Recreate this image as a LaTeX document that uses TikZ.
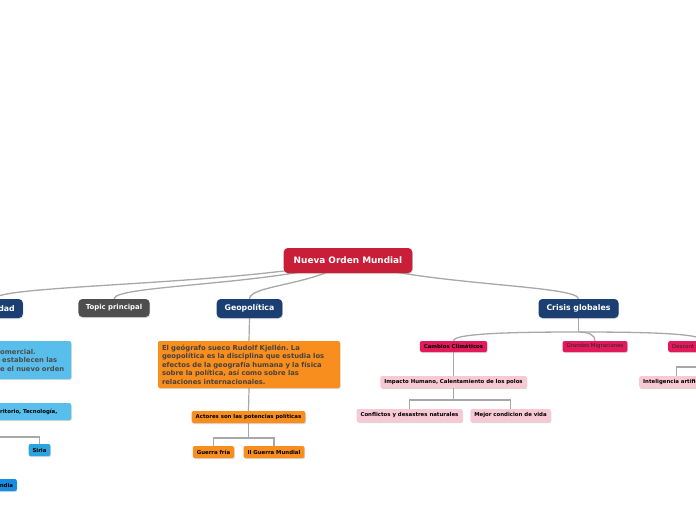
\documentclass[tikz,border=0pt]{standalone}
\usepackage{fontspec}
\setmainfont{DejaVu Sans}
\usetikzlibrary{backgrounds,shadows}
\definecolor{rootred}{RGB}{200,30,56}
\definecolor{navy}{RGB}{27,63,115}
\definecolor{topicgray}{RGB}{78,78,78}
\definecolor{sky}{RGB}{88,190,236}
\definecolor{siriablue}{RGB}{44,164,224}
\definecolor{indiablue}{RGB}{22,140,226}
\definecolor{amber}{RGB}{247,142,30}
\definecolor{crimson}{RGB}{226,26,92}
\definecolor{blush}{RGB}{248,200,213}
\definecolor{wire}{RGB}{168,168,168}
\definecolor{ink}{RGB}{72,66,62}

\tikzset{
  card/.style={rounded corners=2pt, inner ysep=1pt,
    drop shadow={shadow xshift=0.6pt, shadow yshift=-1pt, opacity=0.3}},
  root/.style={card, fill=rootred, text=white, rounded corners=4pt,
    minimum height=25, inner xsep=10pt, font=\fontsize{8.9}{10}\selectfont\bfseries},
  main/.style={card, fill=navy, text=white, rounded corners=4pt,
    minimum height=19, inner xsep=8pt, font=\fontsize{7.8}{9}\selectfont\bfseries},
  aside/.style={main, fill=topicgray, minimum height=18, inner xsep=7.4pt,
    font=\fontsize{6.9}{8}\selectfont\bfseries},
  note/.style={card, text=ink, inner xsep=4pt, align=left,
    font=\fontsize{6.8}{8.5}\selectfont\bfseries\frenchspacing},
  leaf/.style={card, minimum height=12, inner xsep=4pt,
    font=\fontsize{5.4}{6}\selectfont\bfseries},
  plain/.style={font=\fontsize{5.4}{6}\selectfont\mdseries, text=black!85},
  branch/.style={draw=wire, line width=1.3pt},
  elbow/.style={draw=wire, line width=1.2pt}
}

\begin{document}
\begin{tikzpicture}[x=1pt, y=-1pt, line cap=round, line join=round]
  \useasboundingbox (0,0) rectangle (696,520);

  %========= root and first level =========
  \node[root] (nom) at (348,260.5) {Nueva Orden Mundial};
  \node[main, anchor=east, text width=40, align=right] (dad) at (23,308.5) {dad};
  \node[aside] (topic) at (114,308) {Topic principal};
  \node[main] (geo) at (249.5,308.5) {Geopolítica};
  \node[main] (crisis) at (578.5,308.5) {Crisis globales};

  %========= left branch (cut by the margin) =========
  \node[note, fill=sky, anchor=west, text width=67, minimum height=38, text=black!70]
      (trade) at (-4,360) {omercial.\\\hspace{2pt}establecen las\\e el nuevo orden};
  \node[leaf, fill=sky, anchor=west, text width=67, align=left, minimum height=17]
      (terr) at (-4,411.5) {ritorio, Tecnología,};
  \node[leaf, fill=siriablue] (siria) at (39.5,450) {Siria};
  \node[leaf, fill=indiablue, anchor=east, text width=13, align=right] (ind) at (17,485) {ndia};
  \coordinate (siriafork) at (-20,437);

  %========= Geopolitica branch =========
  \node[note, fill=amber, text width=174, minimum height=47] (kjellen) at (249,364.5)
      {El geógrafo sueco Rudolf Kjellén. La\\
       geopolítica es la disciplina que estudia los\\
       efectos de la geografía humana y la física\\
       sobre la política, así como sobre las\\
       relaciones internacionales.};
  \node[leaf, fill=amber] (act) at (248.5,417) {Actores son las potencias políticas};
  \node[leaf, fill=amber] (fria) at (213.5,452) {Guerra fría};
  \node[leaf, fill=amber] (wwii) at (274,452) {II Guerra Mundial};
  \coordinate (actfork) at (248.5,438);

  %========= Crisis globales branch =========
  \node[leaf, fill=crimson, minimum height=11] (clima) at (453.5,346.5) {Cambios Climáticos};
  \node[leaf, plain, fill=crimson, minimum height=11] (migr) at (595,346.5) {Grandes Migraciones};
  \node[leaf, plain, fill=crimson, minimum height=11, anchor=west, text width=62, align=left]
      (descon) at (668,346.5) {Descont};
  \node[leaf, fill=blush] (impact) at (453.5,382) {Impacto Humano, Calentamiento de los polos};
  \node[leaf, fill=blush, minimum height=13] (confl) at (409.5,415.5) {Conflictos y desastres naturales};
  \node[leaf, fill=blush, minimum height=13] (vida) at (510.5,415.5) {Mejor condicion de vida};
  \node[leaf, fill=blush, anchor=west, text width=66, align=left] (ia) at (639,382) {Inteligencia artificial};
  \coordinate (crisisfork) at (578.5,332);
  \coordinate (impfork) at (453.5,400);
  \coordinate (iafork) at (700,367);

  %========= connectors =========
  \begin{scope}[on background layer]
    \draw[branch] (nom.center) .. controls (241,285) and (-5,285) .. (dad.north);
    \draw[branch] (nom.center) .. controls (278,285) and (114,285) .. (topic.north);
    \draw[branch] (nom.center) .. controls (318,285) and (249.5,285) .. (geo.north);
    \draw[branch] (nom.center) .. controls (417,285) and (578.5,285) .. (crisis.north);

    \draw[elbow] (siriafork) -| (siria.north);

    \draw[elbow] (geo.south) -- (kjellen.north);
    \draw[elbow] (kjellen.south) -- (act.north);
    \draw[elbow] (act.south) -- (actfork) -| (fria.north);
    \draw[elbow] (actfork) -| (wwii.north);

    \draw[branch] (crisis.south) -- (crisisfork);
    \draw[branch] (crisisfork) .. controls (520,332) and (453.5,333) .. (clima.north);
    \draw[branch] (crisisfork) .. controls (589,332) and (595,335) .. (migr.north);
    \draw[branch] (crisisfork) .. controls (640,332) and (703,333) .. (descon.north);
    \draw[elbow] (clima.south) -- (impact.north);
    \draw[elbow] (impact.south) -- (impfork) -| (confl.north);
    \draw[elbow] (impfork) -| (vida.north);
    \draw[elbow] (iafork) -| (ia.north);
  \end{scope}
\end{tikzpicture}
\end{document}
